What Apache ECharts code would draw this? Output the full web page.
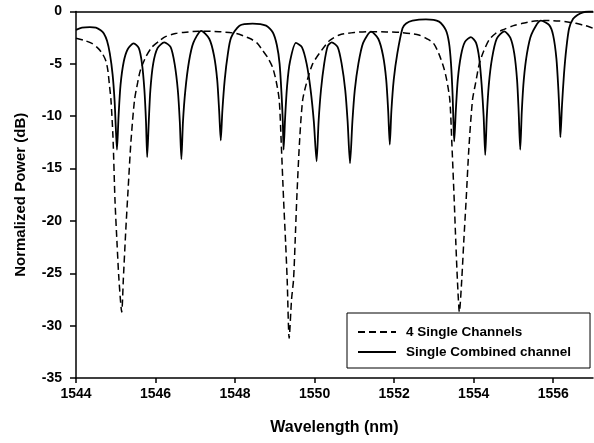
<!DOCTYPE html>
<html>
<head>
<meta charset="utf-8">
<script src="https://cdn.jsdelivr.net/npm/echarts@6/dist/echarts.min.js"></script>
<style>
  html, body { margin: 0; padding: 0; background: #fff; }
  #chart { width: 594px; height: 443px; }
</style>
</head>
<body>
<div id="chart"></div>
<script>
// ---- data ----
const xTicks = [1544, 1546, 1548, 1550, 1552, 1554, 1556];
const yTicks = [-35, -30, -25, -20, -15, -10, -5, 0];
const seriesNames = ['4 Single Channels', 'Single Combined channel'];

// [wavelength nm, normalized power dB]
const singleChannels = [
  [1544.00, -2.55], [1544.20, -2.75], [1544.40, -3.05], [1544.55, -3.5], [1544.66, -4.0],
  [1544.75, -4.7], [1544.80, -5.6], [1544.84, -7.0], [1544.88, -8.5], [1544.93, -12.0],
  [1544.98, -18.0], [1545.03, -22.0], [1545.08, -25.6], [1545.15, -28.7],
  [1545.19, -25.6], [1545.25, -21.0], [1545.31, -17.0], [1545.38, -12.5], [1545.47, -8.5],
  [1545.55, -6.8], [1545.62, -5.6], [1545.76, -4.3], [1545.91, -3.4], [1546.10, -2.8],
  [1546.25, -2.4], [1546.50, -2.1], [1546.70, -2.0], [1547.10, -1.88], [1547.60, -1.93],
  [1548.03, -2.1], [1548.36, -2.56], [1548.55, -3.0], [1548.69, -3.7], [1548.82, -4.4],
  [1548.94, -5.3], [1549.03, -6.6], [1549.11, -8.45], [1549.16, -12.5], [1549.22, -18.0],
  [1549.27, -22.0], [1549.31, -25.6], [1549.36, -31.2],
  [1549.42, -27.5], [1549.47, -25.6], [1549.51, -22.0], [1549.55, -18.0], [1549.62, -12.5],
  [1549.70, -8.45], [1549.82, -6.5], [1549.95, -5.0], [1550.12, -4.0], [1550.37, -2.8],
  [1550.62, -2.24], [1551.00, -2.0], [1551.37, -1.93], [1551.80, -1.95], [1552.12, -1.99],
  [1552.40, -2.1], [1552.62, -2.24], [1552.82, -2.6], [1552.99, -3.04], [1553.12, -4.0],
  [1553.24, -5.27], [1553.32, -6.5], [1553.40, -8.45], [1553.45, -12.5], [1553.51, -18.0],
  [1553.55, -22.0], [1553.59, -25.6], [1553.64, -28.7],
  [1553.70, -25.6], [1553.75, -22.0], [1553.81, -18.0], [1553.88, -13.0], [1553.97, -8.45],
  [1554.05, -6.8], [1554.14, -5.0], [1554.25, -3.8], [1554.39, -2.7], [1554.55, -2.1],
  [1554.72, -1.77], [1555.00, -1.35], [1555.23, -1.13], [1555.45, -0.95], [1555.65, -0.88],
  [1555.90, -0.87], [1556.15, -0.91], [1556.40, -1.02], [1556.57, -1.13], [1556.75, -1.3],
  [1556.90, -1.45], [1557.00, -1.6]
];

const combinedChannel = [
  [1544.00, -1.75], [1544.15, -1.55], [1544.35, -1.5], [1544.50, -1.55], [1544.62, -1.8],
  [1544.70, -2.1], [1544.78, -2.8], [1544.85, -4.0], [1544.92, -6.0], [1544.97, -8.5],
  [1545.00, -11.0], [1545.03, -13.2],
  [1545.07, -10.0], [1545.12, -7.0], [1545.20, -4.8], [1545.30, -3.6], [1545.45, -3.05],
  [1545.58, -3.5], [1545.66, -5.0], [1545.72, -7.5], [1545.76, -10.5], [1545.79, -13.9],
  [1545.83, -10.5], [1545.87, -7.5], [1545.94, -5.0], [1546.05, -3.5], [1546.22, -2.95],
  [1546.38, -3.4], [1546.48, -5.0], [1546.56, -7.5], [1546.61, -10.5], [1546.65, -14.1],
  [1546.69, -10.5], [1546.75, -7.5], [1546.84, -4.8], [1546.95, -3.0], [1547.15, -1.85],
  [1547.35, -2.6], [1547.47, -4.2], [1547.55, -6.5], [1547.60, -9.5], [1547.64, -12.3],
  [1547.68, -9.5], [1547.74, -6.5], [1547.82, -4.0], [1547.90, -2.5], [1548.11, -1.35],
  [1548.44, -1.15], [1548.78, -1.35], [1548.95, -2.0], [1549.05, -3.2], [1549.12, -5.0],
  [1549.17, -8.0], [1549.20, -10.5], [1549.22, -13.2],
  [1549.26, -10.0], [1549.31, -7.0], [1549.38, -4.8], [1549.53, -3.0], [1549.68, -3.4],
  [1549.80, -5.0], [1549.90, -7.5], [1549.98, -10.5], [1550.05, -14.3],
  [1550.10, -10.5], [1550.16, -7.5], [1550.24, -5.0], [1550.33, -3.3], [1550.43, -2.95],
  [1550.58, -3.4], [1550.68, -5.0], [1550.77, -7.5], [1550.83, -10.5], [1550.89, -14.5],
  [1550.95, -10.5], [1551.01, -7.5], [1551.10, -5.0], [1551.22, -3.0], [1551.42, -1.93],
  [1551.60, -2.6], [1551.72, -4.2], [1551.80, -6.5], [1551.85, -9.5], [1551.89, -12.7],
  [1551.93, -9.5], [1551.99, -6.5], [1552.08, -4.0], [1552.21, -1.6], [1552.30, -1.15],
  [1552.46, -0.88], [1552.80, -0.75], [1553.13, -0.97], [1553.30, -1.77], [1553.38, -3.0],
  [1553.43, -5.0], [1553.47, -8.0], [1553.49, -10.5], [1553.51, -12.4],
  [1553.55, -9.5], [1553.60, -6.5], [1553.68, -4.2], [1553.78, -2.9], [1553.93, -2.45],
  [1554.06, -3.0], [1554.14, -4.5], [1554.20, -7.0], [1554.25, -10.0], [1554.29, -13.7],
  [1554.33, -10.0], [1554.38, -7.0], [1554.46, -4.5], [1554.58, -2.6], [1554.77, -1.9],
  [1554.92, -2.5], [1555.02, -4.0], [1555.09, -6.5], [1555.13, -9.5], [1555.17, -13.2],
  [1555.21, -9.5], [1555.26, -6.5], [1555.34, -4.0], [1555.45, -2.2], [1555.69, -0.88],
  [1555.90, -1.3], [1556.00, -2.3], [1556.08, -4.5], [1556.13, -7.5], [1556.16, -10.0],
  [1556.18, -12.0], [1556.22, -9.0], [1556.27, -6.0], [1556.33, -3.5], [1556.40, -1.6],
  [1556.50, -0.7], [1556.61, -0.33], [1556.75, -0.08], [1556.90, 0.0], [1557.00, 0.0]
];

const FONT = '"Liberation Sans", Arial, sans-serif';
const chart = echarts.init(document.getElementById('chart'), null, { renderer: 'canvas' });

chart.setOption({
  animation: false,
  backgroundColor: '#fff',
  grid: { left: 76, top: 11.5, width: 517, height: 366.5, containLabel: false },
  legend: {
    data: seriesNames,
    orient: 'vertical',
    left: 347,
    top: 313,
    padding: [12, 19, 9, 10],
    itemWidth: 38,
    itemHeight: 14,
    itemGap: 6,
    borderColor: '#000',
    borderWidth: 1,
    borderRadius: 0,
    backgroundColor: '#fff',
    itemStyle: { color: 'rgba(0,0,0,0)', borderWidth: 0, opacity: 0 },
    textStyle: { fontFamily: FONT, fontSize: 13.5, fontWeight: 'bold', color: '#000', padding: [0, 0, 0, 5] }
  },
  xAxis: [{
    type: 'value',
    min: 1544, max: 1557, interval: 2,
    name: 'Wavelength (nm)',
    nameLocation: 'middle',
    nameGap: 42,
    nameTextStyle: { fontFamily: FONT, fontSize: 16, fontWeight: 'bold', color: '#000' },
    axisLine: { show: true, onZero: false, lineStyle: { color: '#000', width: 1.5 } },
    axisTick: { show: true, length: 5, customValues: xTicks, lineStyle: { color: '#000', width: 1.5 } },
    axisLabel: {
      customValues: xTicks, margin: 9, fontFamily: FONT, fontSize: 14, fontWeight: 'bold', color: '#000',
      formatter: function (v) { return String(v); }
    },
    splitLine: { show: false }
  }, {
    type: 'value',
    position: 'top',
    min: 1544, max: 1557,
    axisLine: { show: true, onZero: false, lineStyle: { color: '#000', width: 1.5 } },
    axisTick: { show: false },
    axisLabel: { show: false },
    splitLine: { show: false }
  }],
  yAxis: {
    type: 'value',
    min: -35, max: 0, interval: 5,
    name: 'Normalized Power (dB)',
    nameLocation: 'middle',
    nameGap: 48,
    nameTextStyle: { fontFamily: FONT, fontSize: 15, fontWeight: 'bold', color: '#000' },
    axisLine: { show: true, onZero: false, lineStyle: { color: '#000', width: 1.5 } },
    axisTick: { show: true, length: 6, customValues: yTicks, lineStyle: { color: '#000', width: 1.5 } },
    axisLabel: {
      customValues: yTicks, margin: 14, fontFamily: FONT, fontSize: 14, fontWeight: 'bold', color: '#000',
      formatter: function (v) { return String(v); }
    },
    splitLine: { show: false }
  },
  series: [{
    name: seriesNames[0],
    type: 'line',
    data: singleChannels,
    showSymbol: false,
    symbol: 'none',
    smooth: 0.25,
    lineStyle: { color: '#000', width: 1.5, type: [7, 4] },
    itemStyle: { color: '#000' },
    z: 2
  }, {
    name: seriesNames[1],
    type: 'line',
    data: combinedChannel,
    showSymbol: false,
    symbol: 'none',
    smooth: 0.25,
    lineStyle: { color: '#000', width: 1.8 },
    itemStyle: { color: '#000' },
    z: 3
  }]
});
</script>
</body>
</html>
